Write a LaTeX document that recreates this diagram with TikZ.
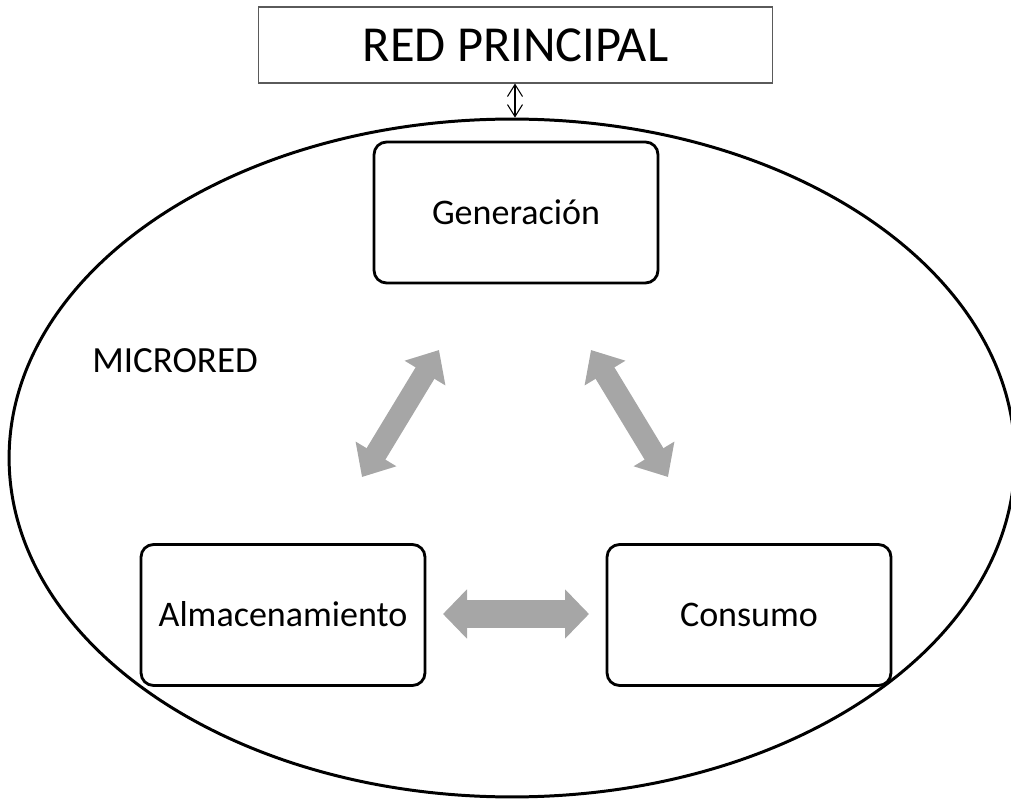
\documentclass[tikz,border=0pt]{standalone}
\usepackage{fontspec}
\setmainfont{Carlito}
\usetikzlibrary{arrows.meta,shapes.geometric}
\definecolor{arrowgray}{RGB}{166,166,166}
\definecolor{framegray}{RGB}{90,90,90}
\begin{document}
\begin{tikzpicture}[x=0.02cm,y=-0.02cm,
  compbox/.style={draw, line width=1.6pt, rounded corners=0.25cm, minimum width=5.68cm, minimum height=2.82cm, inner sep=0pt, text height=13.2pt, text depth=0pt, font=\fontsize{20.5}{24}\selectfont},
  diagflow/.style={line width=0.44cm, draw=arrowgray, {Triangle[length=0.54cm,width=0.92cm]}-{Triangle[length=0.54cm,width=0.92cm]}},
  horflow/.style={line width=0.58cm, draw=arrowgray, {Triangle[length=0.48cm,width=0.96cm]}-{Triangle[length=0.48cm,width=0.96cm]}},
  thinlink/.style={line width=0.6pt, {Straight Barb[length=0.24cm,width=0.3cm]}-{Straight Barb[length=0.24cm,width=0.3cm]}},
]
\useasboundingbox (0,0) rectangle (1011,800);
\clip (0,0) rectangle (1011,800);
% main grid box
\node[draw=framegray, line width=0.6pt, minimum width=10.3cm, minimum height=1.52cm, inner sep=0pt, text height=18.4pt, text depth=0pt, font=\fontsize{28.7}{33}\selectfont] (red) at (515.5,45) {RED PRINCIPAL};
% microgrid ellipse
\node[draw, ellipse, line width=1.7pt, minimum width=20.12cm, minimum height=13.56cm, inner sep=0pt] (micro) at (512,458) {};
\draw[thinlink] (red.south -| 515,0) -- (micro.north -| 515,0);
\node[font=\fontsize{21}{24}\selectfont, anchor=west, inner sep=0pt, text height=13.5pt, text depth=0pt] (lbl) at (92,361) {MICRORED};
% components
\node[compbox] (gen) at (516,212.5) {Generación};
\node[compbox] (alm) at (283,615) {Almacenamiento};
\node[compbox] (con) at (749,615) {Consumo};
% flows
\coordinate (a1) at (439,350);
\coordinate (a2) at (362,477);
\coordinate (b1) at (591,350);
\coordinate (b2) at (668,477);
\coordinate (c1) at (443,614);
\coordinate (c2) at (589,614);
\draw[diagflow] (a2) -- (a1);
\draw[diagflow] (b1) -- (b2);
\draw[horflow] (c1) -- (c2);
\end{tikzpicture}
\end{document}
